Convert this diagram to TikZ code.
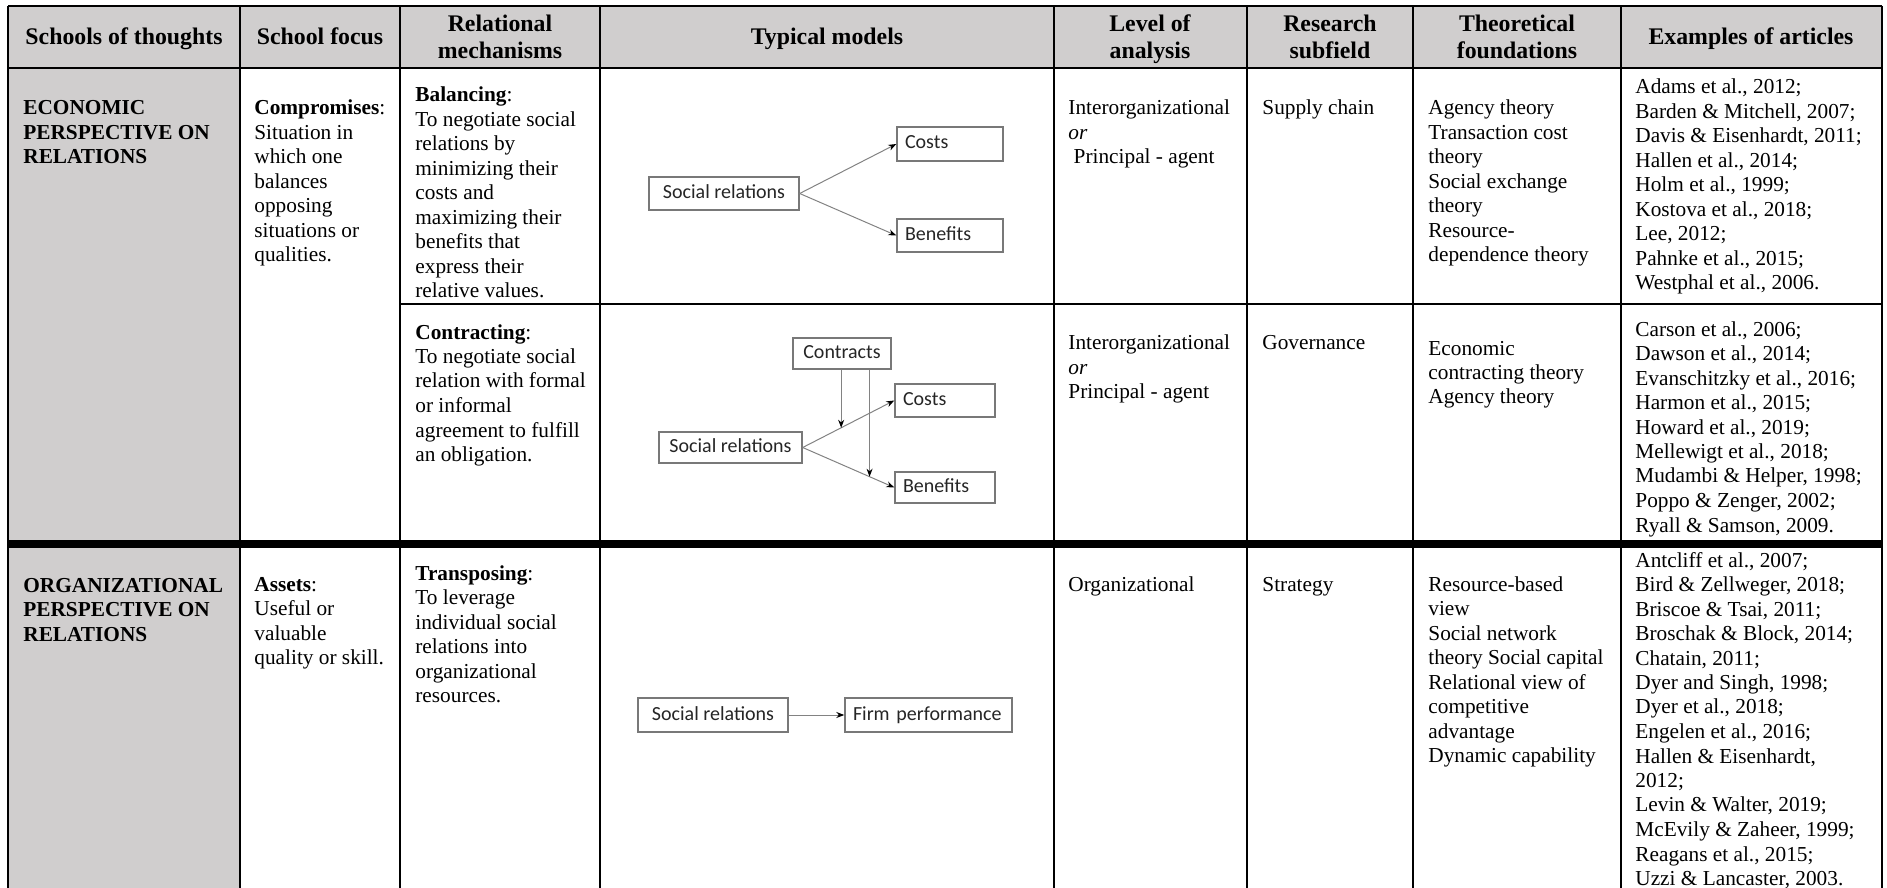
\documentclass[tikz,border=0pt]{standalone}
\usepackage{fontspec}
\setmainfont{Liberation Serif}
\newfontfamily\boxfont{Carlito}
\usetikzlibrary{arrows.meta,calc}
\definecolor{headgray}{RGB}{208,206,206}
\definecolor{boxline}{RGB}{120,120,120}
\definecolor{arrowline}{RGB}{130,130,130}
% left-aligned and centred stacks of lines, baseline on the first line
\newcommand\celltext[1]{\begin{tabular}[t]{@{}l@{}}#1\end{tabular}}
\newcommand\headtext[1]{\begin{tabular}[t]{@{}c@{}}#1\end{tabular}}

\begin{document}
\begin{tikzpicture}[x=0.5pt,y=-0.5pt,
  grid/.style={line width=1.1pt},
  sepline/.style={line width=4pt},
  head/.style={anchor=base, inner sep=0pt, font=\fontsize{11.9}{13.5}\selectfont\bfseries},
  body/.style={anchor=base west, inner sep=0pt, font=\fontsize{10.65}{12.25}\selectfont},
  school/.style={anchor=base west, inner sep=0pt, font=\fontsize{10.65}{12.25}\selectfont\bfseries},
  mbox/.style={draw=boxline, line width=0.7pt, fill=white, font=\boxfont\fontsize{10}{12}\selectfont,
    text=black!85, inner sep=0pt, text height=7pt, text depth=2pt},
  lbox/.style={mbox, align=left, inner xsep=4pt},
  link/.style={draw=arrowline, line width=0.5pt, -{Stealth[length=4pt,width=3pt,color=black]}}
]
\useasboundingbox (0,0) rectangle (1887,888);

% shaded header row and first column
\fill[headgray] (8,6) rectangle (1882,68);
\fill[headgray] (8,68) rectangle (240,890);

% rules of the table
\draw[grid] (8,6) -- (1882,6);
\draw[grid] (8,68) -- (1882,68);
\draw[grid] (400,304) -- (1882,304);
\draw[sepline] (8,544) -- (1882,544);
\foreach \cx in {8,240,400,600,1054,1247,1413,1621,1882}
  \draw[grid] (\cx,6) -- (\cx,890);

% header labels
\node[head] (hschool) at (124,45) {Schools of thoughts};
\node[head] (hfocus)  at (320,45) {School focus};
\node[head] (hmech)   at (500,32) {\headtext{Relational\\mechanisms}};
\node[head] (hmodel)  at (827,45) {Typical models};
\node[head] (hlevel)  at (1150,32) {\headtext{Level of\\analysis}};
\node[head] (hfield)  at (1330,32) {\headtext{Research\\subfield}};
\node[head] (htheory) at (1517,32) {\headtext{Theoretical\\foundations}};
\node[head] (hrefs)   at (1751,45) {Examples of articles};

% economic perspective
\node[school] (econ) at (23,115) {\celltext{ECONOMIC\\PERSPECTIVE ON\\RELATIONS}};
\node[body] (focus1) at (254,115) {\celltext{\textbf{Compromises}:\\Situation in\\which one\\balances\\opposing\\situations or\\qualities.}};
\node[body] (mech1) at (415,102) {\celltext{\textbf{Balancing}:\\To negotiate social\\relations by\\minimizing their\\costs and\\maximizing their\\benefits that\\express their\\relative values.}};
\node[body] (lvl1) at (1068,115) {\celltext{Interorganizational\\\textit{or}\\\hspace{0.25em}Principal - agent}};
\node[body] (field1) at (1262,115) {Supply chain};
\node[body] (theory1) at (1428,115) {\celltext{Agency theory\\Transaction cost\\theory\\Social exchange\\theory\\Resource-\\dependence theory}};
\node[body] (refs1) at (1635,94) {\celltext{Adams et al., 2012;\\Barden \& Mitchell, 2007;\\Davis \& Eisenhardt, 2011;\\Hallen et al., 2014;\\Holm et al., 1999;\\Kostova et al., 2018;\\Lee, 2012;\\Pahnke et al., 2015;\\Westphal et al., 2006.}};

\node[body] (mech2) at (415,339) {\celltext{\textbf{Contracting}:\\To negotiate social\\relation with formal\\or informal\\agreement to fulfill\\an obligation.}};
\node[body] (lvl2) at (1068,350) {\celltext{Interorganizational\\\textit{or}\\Principal - agent}};
\node[body] (field2) at (1262,350) {Governance};
\node[body] (theory2) at (1428,355) {\celltext{Economic\\contracting theory\\Agency theory}};
\node[body] (refs2) at (1635,336) {\celltext{Carson et al., 2006;\\Dawson et al., 2014;\\Evanschitzky et al., 2016;\\Harmon et al., 2015;\\Howard et al., 2019;\\Mellewigt et al., 2018;\\Mudambi \& Helper, 1998;\\Poppo \& Zenger, 2002;\\Ryall \& Samson, 2009.}};

% organizational perspective
\node[school] (org) at (23,592) {\celltext{ORGANIZATIONAL\\PERSPECTIVE ON\\RELATIONS}};
\node[body] (focus3) at (254,591) {\celltext{\textbf{Assets}:\\Useful or\\valuable\\quality or skill.}};
\node[body] (mech3) at (415,580) {\celltext{\textbf{Transposing}:\\To leverage\\individual social\\relations into\\organizational\\resources.}};
\node[body] (lvl3) at (1068,591) {Organizational};
\node[body] (field3) at (1262,591) {Strategy};
\node[body] (theory3) at (1428,591) {\celltext{Resource-based\\view\\Social network\\theory Social capital\\Relational view of\\competitive\\advantage\\Dynamic capability}};
\node[body] (refs3) at (1635,567) {\celltext{Antcliff et al., 2007;\\Bird \& Zellweger, 2018;\\Briscoe \& Tsai, 2011;\\Broschak \& Block, 2014;\\Chatain, 2011;\\Dyer and Singh, 1998;\\Dyer et al., 2018;\\Engelen et al., 2016;\\Hallen \& Eisenhardt,\\2012;\\Levin \& Walter, 2019;\\McEvily \& Zaheer, 1999;\\Reagans et al., 2015;\\Uzzi \& Lancaster, 2003.}};

% model: balancing
\node[mbox, minimum width=75pt, minimum height=16.5pt] (sr1) at (724,193.5) {Social relations};
\node[lbox, text width=45pt, minimum height=17pt] (costs1) at (950,144) {Costs};
\node[lbox, text width=45pt, minimum height=16.5pt] (ben1) at (950,235.5) {Benefits};
\draw[link] (sr1.east) -- (costs1.west);
\draw[link] (sr1.east) -- (ben1.west);

% model: contracting
\node[mbox, minimum width=49pt, minimum height=15.5pt] (contracts) at (842,353.5) {Contracts};
\node[lbox, text width=42pt, minimum height=16.5pt] (costs2) at (945,400.5) {Costs};
\node[lbox, text width=42pt, minimum height=15.5pt] (ben2) at (945,487.5) {Benefits};
\node[mbox, minimum width=71.5pt, minimum height=15.5pt] (sr2) at (730.5,447.5) {Social relations};
\draw[link] (sr2.east) -- (costs2.west);
\draw[link] (sr2.east) -- (ben2.west);
\coordinate (mcost) at ($(sr2.east)!0.42!(costs2.west)$);
\coordinate (mben) at ($(sr2.east)!0.73!(ben2.west)$);
\draw[link] (contracts.south -| mcost) -- (mcost);
\draw[link] (contracts.south -| mben) -- (mben);

% model: transposing
\node[mbox, minimum width=75pt, minimum height=17pt] (sr3) at (713,715) {Social relations};
\node[lbox, text width=75.5pt, minimum height=17pt] (firm) at (928.5,715) {Firm performance};
\draw[link] (sr3) -- (firm);
\end{tikzpicture}
\end{document}
